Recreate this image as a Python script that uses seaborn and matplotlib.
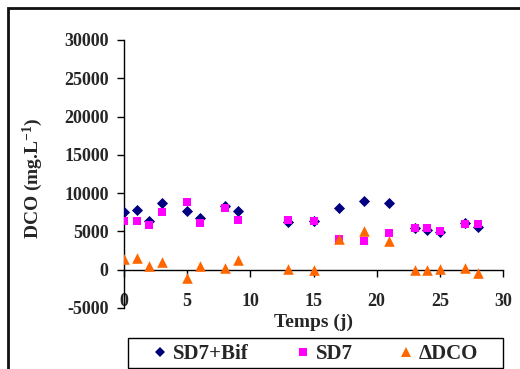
import matplotlib
matplotlib.use("Agg")
import matplotlib.pyplot as plt
from matplotlib.patches import Rectangle
from matplotlib.lines import Line2D
import seaborn as sns
import pandas as pd

# Sampling days (j) and COD measurements (mg/L)
days = [0, 1, 2, 3, 5, 6, 8, 9, 13, 15, 17, 19, 21, 23, 24, 25, 27, 28]
sd7_bif = [7600, 7800, 6400, 8650, 7650, 6700, 8350, 7650, 6250,
           6300, 8000, 9000, 8650, 5450, 5200, 4950, 6150, 5600]
sd7 = [6300, 6300, 5800, 7600, 8800, 6100, 8100, 6450, 6450,
       6300, 4000, 3800, 4800, 5450, 5400, 5100, 6000, 6000]
delta_dco = [1400, 1500, 500, 1000, -1100, 500, 200, 1250, 50,
             0, 4000, 5100, 3750, -100, -100, 50, 250, -450]

series_names = ["SD7+Bif", "SD7", "\u0394DCO"]
series_values = [sd7_bif, sd7, delta_dco]
colors = ["#000080", "#FF00FF", "#FF6600"]
markers = ["D", "s", "^"]
marker_sizes = [32, 40, 58]

df = pd.concat(
    [pd.DataFrame({"Temps": days, "DCO": vals, "Serie": name})
     for name, vals in zip(series_names, series_values)],
    ignore_index=True,
)

sns.set_style("white")
plt.rcParams["font.family"] = ["Liberation Serif", "DejaVu Serif"]
plt.rcParams["font.weight"] = "bold"
plt.rcParams["axes.unicode_minus"] = False
plt.rcParams["mathtext.fontset"] = "custom"
plt.rcParams["mathtext.rm"] = "Liberation Serif:bold"
plt.rcParams["mathtext.it"] = "Liberation Serif:bold"
plt.rcParams["mathtext.bf"] = "Liberation Serif:bold"

W, H = 520, 369
fig = plt.figure(figsize=(W / 100, H / 100), dpi=100)
ax = fig.add_axes([124 / W, 1 - 308 / H, 379 / W, 268 / H])

for name, col, mk, sz in zip(series_names, colors, markers, marker_sizes):
    sns.scatterplot(data=df[df["Serie"] == name], x="Temps", y="DCO",
                    color=col, marker=mk, s=sz, linewidth=0, ax=ax,
                    legend=False, zorder=3)

ax.set_xlim(0, 30)
ax.set_ylim(-5000, 30000)
ax.set_xticks(range(0, 31, 5))
ax.set_yticks(range(-5000, 30001, 5000))

for side in ("top", "right"):
    ax.spines[side].set_visible(False)
ax.spines["left"].set_color("black")
ax.spines["left"].set_linewidth(1.0)
ax.spines["bottom"].set_position(("data", 0))
ax.spines["bottom"].set_color("black")
ax.spines["bottom"].set_linewidth(1.0)

ax.tick_params(axis="y", direction="out", length=5, width=1, color="black",
               labelsize=13, pad=6, left=True)
ax.tick_params(axis="x", direction="out", length=5, width=1, color="black",
               labelsize=13, pad=12, bottom=True)
for lbl in ax.get_xticklabels() + ax.get_yticklabels():
    lbl.set_fontweight("bold")

ax.set_xlabel("")
ax.set_ylabel("")
# Axis titles
fig.text(313 / W, 1 - 322 / H, "Temps (j)", ha="center", va="center",
         fontsize=14, fontweight="bold")
fig.text(33 / W, 1 - 178 / H, "DCO (mg.L$^{\\mathregular{-1}}$)",
         rotation=90, ha="center", va="center", fontsize=14,
         fontweight="bold")

# Legend: one evenly spaced entry per series inside a common frame
entry_x = [154, 297, 400]
for name, col, mk, ms, x0 in zip(series_names, colors, markers, [5, 5.5, 6.5], entry_x):
    h = Line2D([], [], linestyle="none", marker=mk, color=col,
               markersize=ms, markeredgewidth=0)
    fig.legend([h], [name], loc="center left",
               bbox_to_anchor=(x0 / W, 1 - 354 / H), frameon=False,
               prop={"family": "Liberation Serif", "weight": "bold", "size": 15},
               handlelength=0.6, handletextpad=0.3, borderpad=0,
               borderaxespad=0)
fig.patches.append(Rectangle((128 / W, 1.5 / H), 375 / W, (H - 338 - 1.5) / H,
                             transform=fig.transFigure, fill=False,
                             edgecolor="black", linewidth=1.0))

# Outer chart frame
fig.patches.append(Rectangle((8 / W, -0.1), 1.2, 1 - 8 / H + 0.1,
                             transform=fig.transFigure, fill=False,
                             edgecolor="#111111", linewidth=2))

fig.savefig("out.png", dpi=100)
